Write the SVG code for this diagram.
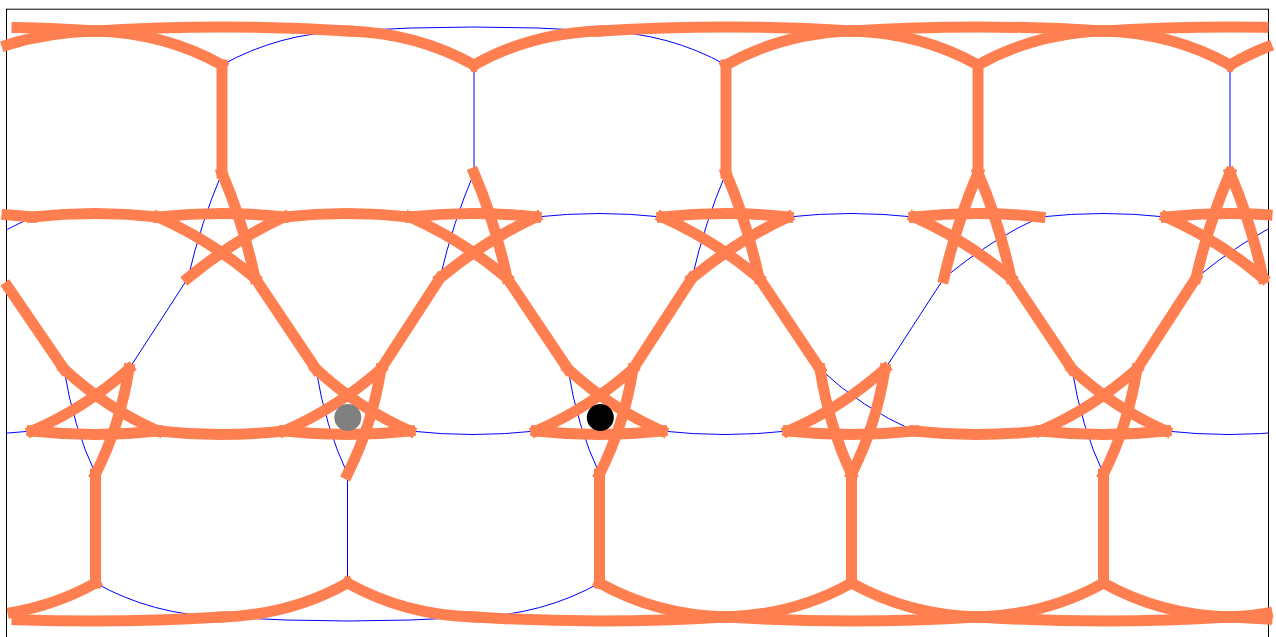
<svg xmlns="http://www.w3.org/2000/svg" width="1276" height="637" viewBox="0 0 1276 637">
<style>
.b{fill:none;stroke:#0000ff;stroke-width:1}
.o{fill:none;stroke:#ff7f50;stroke-width:11;stroke-linecap:square;stroke-linejoin:miter}
.frame{fill:none;stroke:#000;stroke-width:1}
</style>
<defs><clipPath id="c"><rect x="6" y="9" width="1263" height="628"/></clipPath></defs>
<rect width="1276" height="637" fill="#fff"/>
<rect class="frame" x="6.5" y="9.2" width="1262" height="640"/>
<g id="connectors">
<g id="thin" class="b" clip-path="url(#c)">
<path d="M348 31Q474 23 600 31"/>
<path d="M222 65Q279 33 348 31"/>
<path d="M726 65Q669 33 600 31"/>
<path d="M474 65V173"/>
<path d="M1230 65V173"/>
<path d="M222 173Q201 222 188 278"/>
<path d="M474 173Q453 222 440 278"/>
<path d="M726 173Q705 222 692 278"/>
<path d="M536 217Q599 210 662 217"/>
<path d="M788 217Q851 210 914 217"/>
<path d="M1040 217Q1103 210 1166 217"/>
<path d="M32 217Q-18 240 -64 278"/>
<path d="M1040 217Q990 240 944 278"/>
<path d="M1292 217Q1242 240 1196 278"/>
<path d="M188 278L129 369"/>
<path d="M944 278L885 369"/>
<path d="M64 369Q73 426 95.5 474"/>
<path d="M316 369Q325 426 347.5 474"/>
<path d="M568 369Q577 426 599.5 474"/>
<path d="M1072 369Q1081 426 1103.5 474"/>
<path d="M820 369Q862 408 914 431"/>
<path d="M-94 431Q-31 438 32 431"/>
<path d="M410 431Q473 438 536 431"/>
<path d="M662 431Q725 438 788 431"/>
<path d="M1166 431Q1229 438 1292 431"/>
<path d="M347.5 474V583"/>
<path d="M95.5 583Q152.5 615 222 617"/>
<path d="M599.5 583Q542.5 615 474 617"/>
<path d="M222 617Q348 625 474 617"/>
</g>
<g id="thick" class="o">
<path d="M17 27.5Q54 28.3 96 31"/>
<path d="M96 31Q222 23 348 31"/>
<path d="M600 31Q726 23 852 31"/>
<path d="M852 31Q978 23 1104 31"/>
<path d="M1104 31Q1183.5 26 1263 27.3"/>
<path d="M96 31Q48 32 7 45"/>
<path d="M222 65Q165 33 96 31"/>
<path d="M474 65Q417 33 348 31"/>
<path d="M474 65Q531 33 600 31"/>
<path d="M726 65Q783 33 852 31"/>
<path d="M978 65Q921 33 852 31"/>
<path d="M978 65Q1035 33 1104 31"/>
<path d="M1230 65Q1173 33 1104 31"/>
<path d="M1230 65Q1249 54 1267 47"/>
<path d="M222 65V173"/>
<path d="M726 65V173"/>
<path d="M978 65V173"/>
<path d="M222 173Q243 222 255 278"/>
<path d="M474 173Q495 222 507 278"/>
<path d="M726 173Q747 222 759 278"/>
<path d="M978 173Q999 222 1011 278"/>
<path d="M1230 173Q1251 222 1263 278"/>
<path d="M978 173Q957 222 944 278"/>
<path d="M1230 173Q1209 222 1196 278"/>
<path d="M7 214.8Q19.4 215.6 32 217"/>
<path d="M32 217Q95 210 158 217"/>
<path d="M158 217Q221 210 284 217"/>
<path d="M284 217Q347 210 410 217"/>
<path d="M410 217Q473 210 536 217"/>
<path d="M662 217Q725 210 788 217"/>
<path d="M914 217Q977 210 1040 217"/>
<path d="M1166 217Q1216.4 211.4 1267 214.8"/>
<path d="M158 217Q210 240 255 278"/>
<path d="M410 217Q462 240 507 278"/>
<path d="M662 217Q714 240 759 278"/>
<path d="M914 217Q966 240 1011 278"/>
<path d="M1166 217Q1218 240 1263 278"/>
<path d="M284 217Q234 240 188 278"/>
<path d="M536 217Q486 240 440 278"/>
<path d="M788 217Q738 240 692 278"/>
<path d="M8 287L64 369"/>
<path d="M255 278L316 369"/>
<path d="M507 278L568 369"/>
<path d="M759 278L820 369"/>
<path d="M1011 278L1072 369"/>
<path d="M440 278L381 369"/>
<path d="M692 278L633 369"/>
<path d="M1196 278L1137 369"/>
<path d="M64 369Q106 408 158 431"/>
<path d="M316 369Q358 408 410 431"/>
<path d="M568 369Q610 408 662 431"/>
<path d="M1072 369Q1114 408 1166 431"/>
<path d="M129 369Q85 408 32 431"/>
<path d="M381 369Q337 408 284 431"/>
<path d="M633 369Q589 408 536 431"/>
<path d="M885 369Q841 408 788 431"/>
<path d="M1137 369Q1093 408 1040 431"/>
<path d="M129 369Q120 426 95.5 474"/>
<path d="M381 369Q372 426 347.5 474"/>
<path d="M633 369Q624 426 599.5 474"/>
<path d="M885 369Q876 426 851.5 474"/>
<path d="M1137 369Q1128 426 1103.5 474"/>
<path d="M820 369Q829 426 851.5 474"/>
<path d="M32 431Q95 438 158 431"/>
<path d="M158 431Q221 438 284 431"/>
<path d="M284 431Q347 438 410 431"/>
<path d="M536 431Q599 438 662 431"/>
<path d="M788 431Q851 438 914 431"/>
<path d="M914 431Q977 438 1040 431"/>
<path d="M1040 431Q1103 438 1166 431"/>
<path d="M95.5 474V583"/>
<path d="M599.5 474V583"/>
<path d="M851.5 474V583"/>
<path d="M1103.5 474V583"/>
<path d="M95.5 583Q57.3 604.4 13 612.3"/>
<path d="M347.5 583Q290.5 615 222 617"/>
<path d="M347.5 583Q404.5 615 474 617"/>
<path d="M599.5 583Q656.5 615 726 617"/>
<path d="M851.5 583Q794.5 615 726 617"/>
<path d="M851.5 583Q908.5 615 978 617"/>
<path d="M1103.5 583Q1046.5 615 978 617"/>
<path d="M1103.5 583Q1160.5 615 1230 617"/>
<path d="M1230 617Q1249.2 616.4 1267 613.2"/>
<path d="M17 619.7Q119.5 623.5 222 617"/>
<path d="M474 617Q600 625 726 617"/>
<path d="M726 617Q852 625 978 617"/>
<path d="M978 617Q1104 625 1230 617"/>
<path d="M1230 617Q1248.5 618.2 1267 619"/>
</g>
</g>
<g id="node-gray"><circle cx="347.8" cy="417.5" r="13.5" fill="#808080"/></g>
<g id="node-black"><circle cx="600.3" cy="417.5" r="13.5" fill="#000"/></g>
</svg>
